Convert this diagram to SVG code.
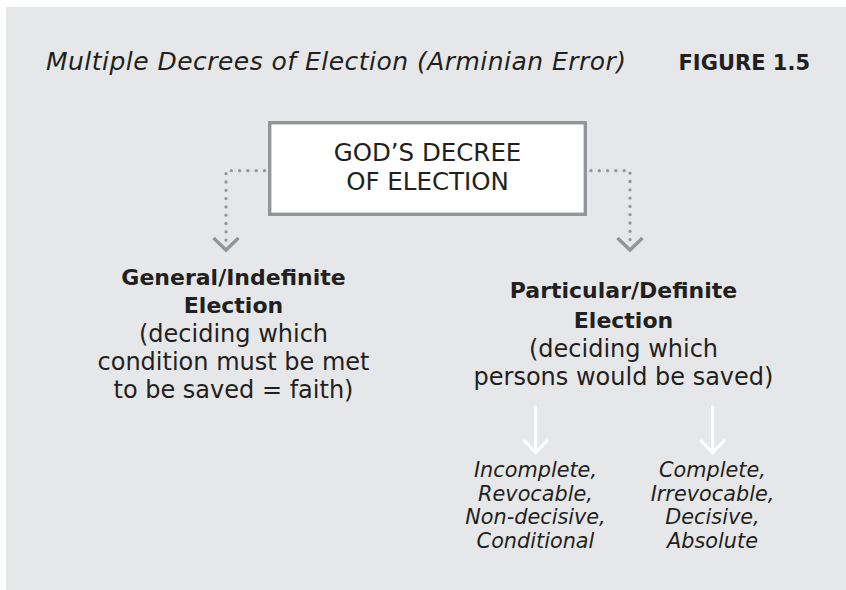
<svg xmlns="http://www.w3.org/2000/svg" width="846" height="590" viewBox="0 0 846 590">
  <style>
    .t { font-family: "DejaVu Sans", "Liberation Sans", sans-serif; fill: #231f20; text-anchor: middle; }
    .title { font-size: 25px; font-style: italic; font-weight: 300; text-anchor: start; }
    .fig { font-size: 21px; font-weight: bold; text-anchor: end; }
    .box { font-size: 24.5px; }
    .hd { font-size: 22px; font-weight: bold; }
    .bd { font-size: 24px; }
    .it { font-size: 20.8px; font-style: italic; }
    .dots { fill: none; stroke: #939598; stroke-width: 3.3; stroke-linecap: round; stroke-dasharray: 0 8.3; }
    .chev { fill: none; stroke: #939598; stroke-width: 3.5; }
    .warr { fill: none; stroke: #ffffff; stroke-width: 3; }
  </style>
  <rect x="6" y="7" width="840" height="583" fill="#e6e7e8"/>
  <g id="title">
    <text class="t title" x="46" y="70" textLength="580">Multiple Decrees of Election (Arminian Error)</text>
    <text class="t fig" x="810" y="70">FIGURE 1.5</text>
  </g>
  <g id="connectors">
    <path class="dots" d="M264.5,170.7 H226 V243"/>
    <path class="chev" d="M213.5,238 L226,250 L238.5,238"/>
    <path class="dots" d="M591,170.7 H630 V243"/>
    <path class="chev" d="M617.5,238 L630,250 L642.5,238"/>
    <path class="warr" d="M535.7,406 V452 M523.5,440 L535.7,452.5 L547.9,440"/>
    <path class="warr" d="M712.7,406 V452 M700.5,440 L712.7,452.5 L724.9,440"/>
  </g>
  <g id="decree">
    <rect x="269.7" y="122.7" width="315.6" height="91.6" fill="#ffffff" stroke="#939598" stroke-width="3.4"/>
    <text class="t box" x="427.5" y="161">GOD’S DECREE</text>
    <text class="t box" x="427.5" y="190">OF ELECTION</text>
  </g>
  <g id="general">
    <text class="t hd" x="233.5" y="285">General/Indefinite</text>
    <text class="t hd" x="233.5" y="313">Election</text>
    <text class="t bd" x="233.5" y="342">(deciding which</text>
    <text class="t bd" x="233.5" y="370">condition must be met</text>
    <text class="t bd" x="233.5" y="398">to be saved = faith)</text>
  </g>
  <g id="particular">
    <text class="t hd" x="623.5" y="298">Particular/Definite</text>
    <text class="t hd" x="623.5" y="328">Election</text>
    <text class="t bd" x="623.5" y="357">(deciding which</text>
    <text class="t bd" x="623.5" y="385">persons would be saved)</text>
  </g>
  <g id="incomplete">
    <text class="t it" x="535.5" y="477">Incomplete,</text>
    <text class="t it" x="535.5" y="500.5">Revocable,</text>
    <text class="t it" x="535.5" y="524">Non-decisive,</text>
    <text class="t it" x="535.5" y="547.5">Conditional</text>
  </g>
  <g id="complete">
    <text class="t it" x="712.5" y="477">Complete,</text>
    <text class="t it" x="712.5" y="500.5">Irrevocable,</text>
    <text class="t it" x="712.5" y="524">Decisive,</text>
    <text class="t it" x="712.5" y="547.5">Absolute</text>
  </g>
</svg>
